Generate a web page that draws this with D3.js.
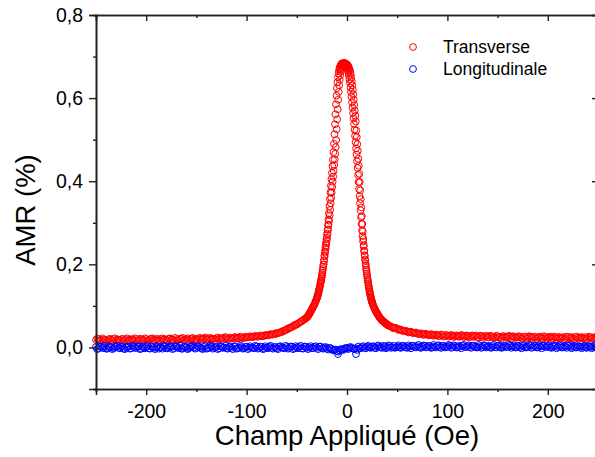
<!DOCTYPE html>
<html><head><meta charset="utf-8">
<script src="https://cdn.jsdelivr.net/npm/d3@7"></script>
<style>body{margin:0;background:#fff}svg{display:block}text{font-family:"Liberation Sans",Arial,sans-serif;fill:#000}</style>
</head><body><svg id="c" width="595" height="457"></svg>
<script>
// ---- data ----
const seriesNames = ["Transverse", "Longitudinale"];
const seriesColors = ["#ff0000", "#0000ff"];
const xMajorTicks = [-200, -100, 0, 100, 200];
const xMinorTicks = [-250, -150, -50, 50, 150, 250];
const yMajorTicks = [0, 0.2, 0.4, 0.6, 0.8];
const yMinorTicks = [-0.1, 0.1, 0.3, 0.5, 0.7];

// [field (Oe), AMR (%)] — transverse, sweep 1
const transverseSweep1 = [
[-250,0.018],[-247.5,0.020],[-245,0.017],[-242.5,0.019],[-240,0.016],[-237.5,0.019],[-235,0.018],[-232.5,0.020],[-230,0.017],[-227.5,0.019],
[-225,0.018],[-222.5,0.016],[-220,0.020],[-217.5,0.018],[-215,0.019],[-212.5,0.017],[-210,0.020],[-207.5,0.018],[-205,0.019],[-202.5,0.017],
[-200,0.020],[-197.5,0.018],[-195,0.021],[-192.5,0.018],[-190,0.019],[-187.5,0.017],[-185,0.020],[-182.5,0.019],[-180,0.018],[-177.5,0.021],
[-175,0.019],[-172.5,0.017],[-170,0.020],[-167.5,0.019],[-165,0.021],[-162.5,0.018],[-160,0.020],[-157.5,0.019],[-155,0.021],[-152.5,0.018],
[-150,0.020],[-147.5,0.022],[-145,0.019],[-142.5,0.021],[-140,0.020],[-137.5,0.022],[-135,0.019],[-132.5,0.021],[-130,0.022],[-127.5,0.020],
[-125,0.022],[-122.5,0.021],[-120,0.023],[-117.5,0.021],[-115,0.022],[-112.5,0.024],[-110,0.022],[-107.5,0.023],[-105,0.024],[-102.5,0.023],
[-100,0.024],[-97.5,0.025],[-95,0.025],[-92.5,0.026],[-90,0.026],[-87.5,0.027],[-85,0.027],[-82.5,0.028],[-80,0.029],[-77.5,0.030],
[-75,0.031],[-72.5,0.032],[-70,0.033],[-67.5,0.035],[-65,0.037],[-62.5,0.040],[-60,0.043],[-57.5,0.046],[-55,0.049],[-52.5,0.052],
[-50,0.055],[-47.5,0.059],[-45,0.063],[-42.5,0.067],
[-40,0.072],[-39,0.075],[-38,0.079],[-37,0.083],[-36,0.087],[-35,0.092],[-34,0.096],[-33,0.101],[-32,0.106],[-31,0.112],
[-30,0.118],[-29.5,0.122],[-29,0.126],[-28.5,0.131],[-28,0.136],[-27.5,0.141],[-27,0.147],[-26.5,0.153],[-26,0.159],[-25.5,0.165],
[-25,0.172],[-24.5,0.180],[-24,0.189],[-23.5,0.199],[-23,0.210],[-22.5,0.221],[-22,0.231],[-21.5,0.241],[-21,0.251],[-20.5,0.261],
[-20,0.272],[-19.5,0.283],[-19,0.295],[-18.5,0.308],[-18,0.323],[-17.5,0.340],[-17,0.357],[-16.5,0.373],[-16,0.389],[-15.5,0.405],
[-15,0.420],[-14.5,0.436],[-14,0.452],[-13.5,0.470],[-13,0.490],[-12.5,0.513],[-12,0.537],[-11.5,0.561],[-11,0.585],[-10.5,0.606],
[-10,0.624],[-9.5,0.638],[-9,0.650],[-8.5,0.659],[-8,0.666],[-7.5,0.671],[-7,0.675],[-6.5,0.678],[-6,0.680],[-5.5,0.682],
[-5,0.683],[-4.5,0.684],[-4,0.684],[-3.5,0.684],[-3,0.683],[-2.5,0.682],[-2,0.681],[-1.5,0.680],[-1,0.678],[-0.5,0.676],
[0,0.673],[0.5,0.670],[1,0.666],[1.5,0.660],[2,0.653],[2.5,0.645],[3,0.636],[3.5,0.626],[4,0.615],[4.5,0.603],
[5,0.590],[5.5,0.577],[6,0.564],[6.5,0.551],[7,0.538],[7.5,0.524],[8,0.509],[8.5,0.494],[9,0.479],[9.5,0.464],
[10,0.448],[10.5,0.432],[11,0.415],[11.5,0.398],[12,0.381],[12.5,0.364],[13,0.347],[13.5,0.330],[14,0.313],[14.5,0.297],
[15,0.282],[15.5,0.268],[16,0.255],[16.5,0.243],[17,0.232],[17.5,0.222],[18,0.212],[18.5,0.202],[19,0.192],[19.5,0.183],
[20,0.174],[20.5,0.165],[21,0.157],[21.5,0.149],[22,0.142],[22.5,0.135],[23,0.129],[23.5,0.123],[24,0.118],[24.5,0.113],
[25,0.109],[26,0.102],[27,0.096],[28,0.091],[29,0.086],[30,0.082],[31,0.078],[32,0.074],[33,0.071],[34,0.068],
[35,0.065],[36,0.063],[37,0.061],[38,0.059],[39,0.057],[40,0.055],
[42.5,0.052],[45,0.049],[47.5,0.047],[50,0.045],[52.5,0.043],[55,0.041],[57.5,0.040],[60,0.038],[62.5,0.037],[65,0.036],
[67.5,0.035],[70,0.034],[72.5,0.033],[75,0.032],[77.5,0.032],[80,0.031],[82.5,0.030],[85,0.031],[87.5,0.029],[90,0.030],
[92.5,0.028],[95,0.030],[97.5,0.028],[100,0.029],[102.5,0.027],[105,0.029],[107.5,0.027],[110,0.028],[112.5,0.026],[115,0.029],
[117.5,0.027],[120,0.028],[122.5,0.026],[125,0.029],[127.5,0.027],[130,0.025],[132.5,0.028],[135,0.026],[137.5,0.027],[140,0.025],
[142.5,0.028],[145,0.026],[147.5,0.024],[150,0.027],[152.5,0.025],[155,0.027],[157.5,0.024],[160,0.026],[162.5,0.025],[165,0.027],
[167.5,0.024],[170,0.026],[172.5,0.025],[175,0.023],[177.5,0.026],[180,0.024],[182.5,0.026],[185,0.023],[187.5,0.025],[190,0.024],
[192.5,0.026],[195,0.023],[197.5,0.025],[200,0.024],[202.5,0.026],[205,0.023],[207.5,0.025],[210,0.024],[212.5,0.022],[215,0.025],
[217.5,0.023],[220,0.025],[222.5,0.024],[225,0.022],[227.5,0.025],[230,0.023],[232.5,0.024],[235,0.022],[237.5,0.025],[240,0.023],
[242.5,0.024],[245,0.022],[247.5,0.024],[250,0.023]
];

// transverse, sweep 2 (return branch)
const transverseSweep2 = [
[-248.75,0.021],[-246.25,0.016],[-243.75,0.022],[-241.25,0.018],[-238.75,0.015],[-236.25,0.021],[-233.75,0.017],[-231.25,0.022],[-228.75,0.019],[-226.25,0.015],
[-223.75,0.021],[-221.25,0.018],[-218.75,0.022],[-216.25,0.016],[-213.75,0.020],[-211.25,0.022],[-208.75,0.016],[-206.25,0.021],[-203.75,0.018],[-201.25,0.022],
[-198.75,0.016],[-196.25,0.020],[-193.75,0.022],[-191.25,0.017],[-188.75,0.021],[-186.25,0.016],[-183.75,0.022],[-181.25,0.020],[-178.75,0.017],[-176.25,0.022],
[-173.75,0.019],[-171.25,0.023],[-168.75,0.017],[-166.25,0.021],[-163.75,0.023],[-161.25,0.018],[-158.75,0.022],[-156.25,0.017],[-153.75,0.023],[-151.25,0.020],
[-148.75,0.018],[-146.25,0.023],[-143.75,0.020],[-141.25,0.024],[-138.75,0.019],[-136.25,0.023],[-133.75,0.021],[-131.25,0.018],[-128.75,0.024],[-126.25,0.020],
[-123.75,0.023],[-121.25,0.025],[-118.75,0.020],[-116.25,0.024],[-113.75,0.021],[-111.25,0.025],[-108.75,0.022],[-106.25,0.026],[-103.75,0.022],[-101.25,0.026],
[-98.75,0.024],[-96.25,0.027],[-93.75,0.025],[-91.25,0.028],[-88.75,0.026],[-86.25,0.029],[-83.75,0.027],[-81.25,0.030],[-78.75,0.029],[-76.25,0.032],
[-73.75,0.031],[-71.25,0.034],[-68.75,0.035],[-66.25,0.037],[-63.75,0.040],[-61.25,0.042],[-58.75,0.046],[-56.25,0.048],[-53.75,0.052],[-51.25,0.055],
[-48.75,0.058],[-46.25,0.062],[-43.75,0.066],
[-41.5,0.070],[-40.5,0.071],[-39.5,0.074],[-38.5,0.077],[-37.5,0.081],[-36.5,0.085],[-35.5,0.089],[-34.5,0.094],[-33.5,0.099],[-32.5,0.103],
[-31.5,0.109],[-30.5,0.115],
[-29.75,0.120],[-29.25,0.124],[-28.75,0.129],[-28.25,0.134],[-27.75,0.139],[-27.25,0.144],[-26.75,0.150],[-26.25,0.156],[-25.75,0.162],[-25.25,0.169],
[-24.75,0.176],[-24.25,0.185],[-23.75,0.194],[-23.25,0.200],[-22.75,0.208],[-22.25,0.219],[-21.75,0.228],[-21.25,0.237],[-20.75,0.246],[-20.25,0.255],
[-19.75,0.264],[-19.25,0.274],[-18.75,0.284],[-18.25,0.295],[-17.75,0.305],[-17.25,0.318],[-16.75,0.331],[-16.25,0.347],[-15.75,0.360],[-15.25,0.373],
[-14.75,0.386],[-14.25,0.399],[-13.75,0.411],[-13.25,0.425],[-12.75,0.439],[-12.25,0.452],[-11.75,0.466],[-11.25,0.482],[-10.75,0.499],[-10.25,0.525],
[-9.75,0.549],[-9.25,0.573],[-8.75,0.596],[-8.25,0.615],[-7.75,0.631],[-7.25,0.644],[-6.75,0.655],[-6.25,0.663],[-5.75,0.669],[-5.25,0.673],
[-4.75,0.677],[-4.25,0.679],[-3.75,0.681],[-3.25,0.683],[-2.75,0.684],[-2.25,0.684],[-1.75,0.684],[-1.25,0.683],[-0.75,0.682],[-0.25,0.681],
[0.25,0.680],[0.75,0.679],[1.25,0.677],[1.75,0.674],[2.25,0.671],[2.75,0.668],[3.25,0.663],[3.75,0.656],[4.25,0.649],[4.75,0.640],
[5.25,0.631],[5.75,0.620],[6.25,0.609],[6.75,0.596],[7.25,0.583],[7.75,0.570],[8.25,0.557],[8.75,0.544],[9.25,0.522],[9.75,0.506],
[10.25,0.489],[10.75,0.473],[11.25,0.454],[11.75,0.437],[12.25,0.418],[12.75,0.398],[13.25,0.378],[13.75,0.357],[14.25,0.337],[14.75,0.316],
[15.25,0.297],[15.75,0.279],[16.25,0.261],[16.75,0.246],[17.25,0.233],[17.75,0.220],[18.25,0.209],[18.75,0.198],[19.25,0.187],[19.75,0.178],
[20.25,0.169],[20.75,0.161],[21.25,0.153],[21.75,0.145],[22.25,0.138],[22.75,0.132],[23.25,0.126],[23.75,0.120],[24.25,0.115],[24.75,0.111],
[25.25,0.107],
[25.5,0.105],[26.5,0.099],[27.5,0.093],[28.5,0.088],[29.5,0.084],[30.5,0.080],[31.5,0.076],[32.5,0.072],[33.5,0.069],[34.5,0.066],
[35.5,0.064],[36.5,0.062],[37.5,0.060],[38.5,0.058],[39.5,0.056],[40.5,0.054],[41.5,0.052],
[43.75,0.050],[46.25,0.046],[48.75,0.047],[51.25,0.042],[53.75,0.043],[56.25,0.039],[58.75,0.040],[61.25,0.036],[63.75,0.038],[66.25,0.034],
[68.75,0.036],[71.25,0.032],[73.75,0.034],[76.25,0.030],[78.75,0.033],[81.25,0.029],[83.75,0.032],[86.25,0.028],[88.75,0.031],[91.25,0.027],
[93.75,0.031],[96.25,0.026],[98.75,0.030],[101.25,0.026],[103.75,0.030],[106.25,0.025],[108.75,0.029],[111.25,0.026],[113.75,0.030],[116.25,0.025],
[118.75,0.029],[121.25,0.024],[123.75,0.028],[126.25,0.025],[128.75,0.029],[131.25,0.024],[133.75,0.028],[136.25,0.023],[138.75,0.028],[141.25,0.024],
[143.75,0.027],[146.25,0.023],[148.75,0.028],[151.25,0.024],[153.75,0.022],[156.25,0.027],[158.75,0.023],[161.25,0.028],[163.75,0.022],[166.25,0.026],
[168.75,0.023],[171.25,0.027],[173.75,0.022],[176.25,0.026],[178.75,0.021],[181.25,0.027],[183.75,0.023],[186.25,0.026],[188.75,0.021],[191.25,0.025],
[193.75,0.022],[196.25,0.027],[198.75,0.021],[201.25,0.025],[203.75,0.022],[206.25,0.026],[208.75,0.021],[211.25,0.025],[213.75,0.023],[216.25,0.020],
[218.75,0.026],[221.25,0.022],[223.75,0.025],[226.25,0.020],[228.75,0.026],[231.25,0.021],[233.75,0.025],[236.25,0.022],[238.75,0.020],[241.25,0.026],
[243.75,0.021],[246.25,0.025],[248.75,0.021]
];

// longitudinal, sweep 1
const longitudinalSweep1 = [
[-250,0.001],[-247.5,-0.002],[-245,0.002],[-242.5,-0.001],[-240,-0.003],[-237.5,0.001],[-235,0.000],[-232.5,-0.002],[-230,0.002],[-227.5,-0.001],
[-225,0.001],[-222.5,-0.003],[-220,0.000],[-217.5,0.002],[-215,-0.002],[-212.5,0.001],[-210,-0.001],[-207.5,0.002],[-205,-0.003],[-202.5,0.000],
[-200,0.001],[-197.5,-0.002],[-195,0.002],[-192.5,-0.001],[-190,0.000],[-187.5,-0.003],[-185,0.001],[-182.5,0.002],[-180,-0.002],[-177.5,0.000],
[-175,0.001],[-172.5,-0.002],[-170,0.002],[-167.5,-0.001],[-165,-0.003],[-162.5,0.001],[-160,0.000],[-157.5,-0.002],[-155,0.002],[-152.5,0.000],
[-150,-0.001],[-147.5,0.002],[-145,-0.002],[-142.5,0.001],[-140,-0.003],[-137.5,0.000],[-135,0.002],[-132.5,-0.001],[-130,0.001],[-127.5,-0.002],
[-125,0.002],[-122.5,0.000],[-120,-0.002],[-117.5,0.001],[-115,-0.001],[-112.5,0.002],[-110,-0.003],[-107.5,0.000],[-105,0.001],[-102.5,-0.002],
[-100,0.002],[-97.5,-0.001],[-95,0.000],[-92.5,-0.002],[-90,0.002],[-87.5,-0.001],[-85,0.001],[-82.5,-0.003],[-80,0.000],[-77.5,0.002],
[-75,-0.001],[-72.5,0.001],[-70,-0.002],[-67.5,0.002],[-65,0.000],[-62.5,-0.002],[-60,0.001],[-57.5,-0.001],[-55,0.002],[-52.5,-0.002],
[-50,0.000],[-47.5,0.001],[-45,-0.002],[-42.5,0.002],[-40,-0.001],[-37.5,0.000],[-35,-0.002],[-32.5,0.001],[-30,-0.001],[-27.5,0.002],
[-25,-0.002],[-22.5,0.000],[-20,-0.003],[-17.5,-0.001],[-15,-0.004],[-12.5,-0.006],[-10,-0.009],[-9,-0.016],[-7.5,-0.007],[-5,-0.005],
[-2.5,-0.003],[0,-0.002],[2.5,0.000],[5,-0.002],[7.5,-0.004],[9,-0.016],[10,-0.006],[12.5,-0.002],[15,0.001],[17.5,-0.001],
[20,0.002],[22.5,0.000],[25,0.002],[27.5,-0.001],[30,0.003],[32.5,0.001],[35,-0.001],[37.5,0.002],[40,0.000],[42.5,0.003],
[45,0.001],[47.5,-0.001],[50,0.002],[52.5,0.000],[55,0.003],[57.5,0.001],[60,-0.001],[62.5,0.002],[65,0.004],[67.5,0.001],
[70,0.003],[72.5,0.000],[75,0.002],[77.5,0.004],[80,0.001],[82.5,0.003],[85,0.000],[87.5,0.002],[90,0.004],[92.5,0.001],
[95,0.003],[97.5,0.000],[100,0.002],[102.5,0.004],[105,0.001],[107.5,0.003],[110,0.000],[112.5,0.002],[115,0.004],[117.5,0.001],
[120,0.003],[122.5,0.001],[125,0.004],[127.5,0.002],[130,0.000],[132.5,0.003],[135,0.001],[137.5,0.004],[140,0.002],[142.5,0.000],
[145,0.003],[147.5,0.001],[150,0.004],[152.5,0.002],[155,0.000],[157.5,0.003],[160,0.001],[162.5,0.004],[165,0.002],[167.5,0.000],
[170,0.003],[172.5,0.001],[175,0.003],[177.5,0.000],[180,0.002],[182.5,0.004],[185,0.001],[187.5,0.003],[190,0.000],[192.5,0.002],
[195,0.004],[197.5,0.001],[200,0.003],[202.5,0.000],[205,0.002],[207.5,0.003],[210,0.001],[212.5,0.003],[215,0.000],[217.5,0.002],
[220,0.004],[222.5,0.001],[225,0.002],[227.5,0.000],[230,0.003],[232.5,0.001],[235,0.002],[237.5,0.000],[240,0.003],[242.5,0.001],
[245,0.002],[247.5,0.000],[250,0.002]
];

// longitudinal, sweep 2 (return branch)
const longitudinalSweep2 = [
[-248.75,-0.004],[-246.25,0.003],[-243.75,-0.001],[-241.25,0.004],[-238.75,-0.003],[-236.25,0.002],[-233.75,-0.004],[-231.25,0.001],[-228.75,0.004],[-226.25,-0.002],
[-223.75,0.003],[-221.25,-0.004],[-218.75,0.001],[-216.25,-0.003],[-213.75,0.004],[-211.25,-0.001],[-208.75,0.003],[-206.25,-0.004],[-203.75,0.002],[-201.25,-0.002],
[-198.75,0.004],[-196.25,-0.003],[-193.75,0.001],[-191.25,-0.004],[-188.75,0.003],[-186.25,0.000],[-183.75,-0.003],[-181.25,0.004],[-178.75,-0.002],[-176.25,0.002],
[-173.75,-0.004],[-171.25,0.003],[-168.75,-0.001],[-166.25,0.004],[-163.75,-0.003],[-161.25,0.002],[-158.75,-0.004],[-156.25,0.001],[-153.75,0.004],[-151.25,-0.003],
[-148.75,0.003],[-146.25,-0.001],[-143.75,-0.004],[-141.25,0.003],[-138.75,-0.002],[-136.25,0.004],[-133.75,-0.003],[-131.25,0.001],[-128.75,-0.004],[-126.25,0.003],
[-123.75,-0.001],[-121.25,0.004],[-118.75,-0.003],[-116.25,0.002],[-113.75,-0.004],[-111.25,0.003],[-108.75,-0.002],[-106.25,0.004],[-103.75,-0.003],[-101.25,0.001],
[-98.75,-0.004],[-96.25,0.003],[-93.75,-0.001],[-91.25,0.004],[-88.75,-0.003],[-86.25,0.002],[-83.75,-0.004],[-81.25,0.003],[-78.75,-0.002],[-76.25,0.004],
[-73.75,-0.003],[-71.25,0.001],[-68.75,-0.004],[-66.25,0.003],[-63.75,-0.001],[-61.25,0.004],[-58.75,-0.003],[-56.25,0.002],[-53.75,-0.004],[-51.25,0.003],
[-48.75,-0.002],[-46.25,0.004],[-43.75,-0.003],[-41.25,0.002],[-38.75,-0.004],[-36.25,0.003],[-33.75,-0.002],[-31.25,0.003],[-28.75,-0.004],[-26.25,0.002],
[-23.75,-0.003],[-21.25,0.001],[-18.75,-0.005],[-16.25,-0.002],[-13.75,-0.007],[-11.25,-0.005],[-8.75,-0.010],[-6.25,-0.004],[-3.75,-0.006],[-1.25,-0.001],
[1.25,-0.004],[3.75,0.001],[6.25,-0.003],[8.75,-0.002],[11.25,0.002],[13.75,-0.002],[16.25,0.003],[18.75,-0.002],[21.25,0.004],[23.75,-0.001],
[26.25,0.003],[28.75,-0.002],[31.25,0.005],[33.75,0.000],[36.25,0.004],[38.75,-0.002],[41.25,0.005],[43.75,-0.001],[46.25,0.004],[48.75,0.000],
[51.25,0.005],[53.75,-0.001],[56.25,0.004],[58.75,0.000],[61.25,0.005],[63.75,-0.002],[66.25,0.004],[68.75,0.000],[71.25,0.006],[73.75,-0.001],
[76.25,0.005],[78.75,0.000],[81.25,0.004],[83.75,-0.001],[86.25,0.006],[88.75,0.000],[91.25,0.005],[93.75,-0.001],[96.25,0.004],[98.75,0.001],
[101.25,0.006],[103.75,-0.001],[106.25,0.005],[108.75,0.000],[111.25,0.004],[113.75,-0.002],[116.25,0.006],[118.75,0.001],[121.25,0.005],[123.75,-0.001],
[126.25,0.004],[128.75,0.000],[131.25,0.006],[133.75,-0.001],[136.25,0.005],[138.75,0.000],[141.25,0.004],[143.75,-0.001],[146.25,0.006],[148.75,0.000],
[151.25,0.005],[153.75,-0.001],[156.25,0.004],[158.75,0.001],[161.25,0.006],[163.75,-0.001],[166.25,0.005],[168.75,0.000],[171.25,0.004],[173.75,-0.002],
[176.25,0.005],[178.75,0.000],[181.25,0.006],[183.75,-0.001],[186.25,0.004],[188.75,0.000],[191.25,0.005],[193.75,-0.002],[196.25,0.004],[198.75,0.001],
[201.25,0.005],[203.75,-0.001],[206.25,0.004],[208.75,-0.002],[211.25,0.005],[213.75,0.000],[216.25,0.004],[218.75,-0.001],[221.25,0.005],[223.75,-0.002],
[226.25,0.004],[228.75,0.000],[231.25,0.003],[233.75,-0.002],[236.25,0.004],[238.75,-0.001],[241.25,0.003],[243.75,-0.002],[246.25,0.004],[248.75,-0.001]
];

// ---- drawing ----
const svg = d3.select("#c");
const x = d3.scaleLinear().domain([-250, 250]).range([96, 598]);
const y = d3.scaleLinear().domain([-0.1, 0.8]).range([389, 15]);
const loc = d3.formatLocale({decimal: ",", thousands: ".", grouping: [3], currency: ["", ""], minus: "-"});
const fy = loc.format(".1f"), fx = loc.format("d");
const axisColor = "#222";

function styleAxis(g, fontSize) {
  g.select(".domain").attr("stroke", axisColor).attr("stroke-width", 1.6);
  g.selectAll(".tick line").attr("stroke", axisColor).attr("stroke-width", 1.4);
  g.selectAll(".tick text").attr("font-size", fontSize).attr("fill", "#000")
    .style("font-family", '"Liberation Sans", Arial, sans-serif');
}

// data points
const plot = svg.append("g");
const groups = [
  {data: transverseSweep1, color: seriesColors[0]},
  {data: transverseSweep2, color: seriesColors[0]},
  {data: longitudinalSweep1, color: seriesColors[1]},
  {data: longitudinalSweep2, color: seriesColors[1]}
];
groups.forEach(s => {
  plot.append("g").selectAll("circle").data(s.data).join("circle")
    .attr("cx", d => x(d[0])).attr("cy", d => y(d[1])).attr("r", 3.4)
    .attr("fill", "none").attr("stroke", s.color).attr("stroke-width", 1);
});

// minor ticks
svg.append("g").attr("transform", "translate(0,389)")
  .call(d3.axisBottom(x).tickValues(xMinorTicks).tickSize(3).tickFormat(""))
  .call(g => styleAxis(g, 0));
svg.append("g").attr("transform", "translate(0,15)")
  .call(d3.axisBottom(x).tickValues(xMinorTicks).tickSize(3).tickFormat(""))
  .call(g => styleAxis(g, 0));
svg.append("g").attr("transform", "translate(96,0)")
  .call(d3.axisLeft(y).tickValues(yMinorTicks).tickSize(3).tickFormat(""))
  .call(g => styleAxis(g, 0));
svg.append("g").attr("transform", "translate(598,0)")
  .call(d3.axisLeft(y).tickValues(yMinorTicks).tickSize(3).tickFormat(""))
  .call(g => styleAxis(g, 0));

// major ticks
svg.append("g").attr("transform", "translate(0,389)")
  .call(d3.axisBottom(x).tickValues(xMajorTicks).tickSize(6).tickPadding(9).tickFormat(fx))
  .call(g => styleAxis(g, 19.5));
svg.append("g").attr("transform", "translate(0,15)")
  .call(d3.axisBottom(x).tickValues(xMajorTicks).tickSize(6).tickFormat(""))
  .call(g => styleAxis(g, 0));
svg.append("g").attr("transform", "translate(96,0)")
  .call(d3.axisLeft(y).tickValues(yMajorTicks).tickSize(7).tickPadding(6).tickFormat(fy))
  .call(g => styleAxis(g, 19.5));
svg.append("g").attr("transform", "translate(598,0)")
  .call(d3.axisLeft(y).tickValues(yMajorTicks).tickSize(6).tickFormat(""))
  .call(g => styleAxis(g, 0));

// axis titles
svg.append("text").attr("x", 347).attr("y", 445).attr("text-anchor", "middle")
  .attr("font-size", 27.5).text("Champ Appliqué (Oe)");
svg.append("text").attr("transform", "translate(35,210) rotate(-90)").attr("text-anchor", "middle")
  .attr("font-size", 27.5).text("AMR (%)");

// legend
const legend = svg.append("g");
seriesNames.forEach((name, i) => {
  const ly = 47 + i * 22;
  legend.append("circle").attr("cx", 413).attr("cy", ly).attr("r", 3.4)
    .attr("fill", "none").attr("stroke", seriesColors[i]).attr("stroke-width", 1);
  legend.append("text").attr("x", 443).attr("y", ly + 6).attr("font-size", 17.5).text(name);
});
</script></body></html>
